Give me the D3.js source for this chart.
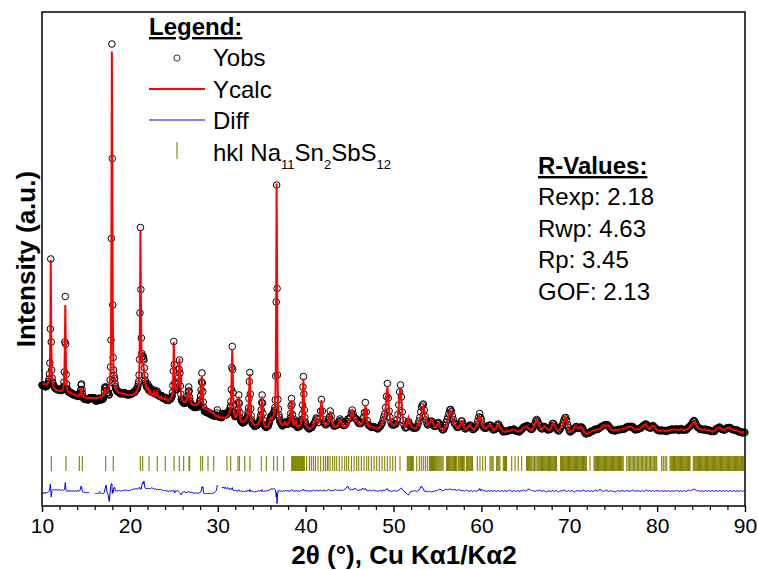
<!DOCTYPE html>
<html>
<head>
<meta charset="utf-8">
<script src="https://cdn.jsdelivr.net/npm/d3@7"></script>
<style>
  body { margin: 0; background: #fff; }
  svg { display: block; font-family: "Liberation Sans", Arial, sans-serif; }
</style>
</head>
<body>
<div id="chart"></div>
<script>
// 2theta grid: 10.00–40.00 in 0.05° steps, then 40.1–90.0 in 0.1° steps
const fineStart = 10, fineStep = 0.05;
const coarseStart = 40.1, coarseStep = 0.1;

// Ycalc (counts, arbitrary units)
const calcFine = [
  246,246,245,245,245,244,244,244,243,243,243,243,244,245,247,250,254,262,280,340,
  492,340,275,255,246,242,239,237,236,235,234,233,232,232,232,231,231,231,231,231,
  230,230,230,230,230,230,231,232,234,238,246,265,320,402,318,262,244,236,232,230,
  229,228,228,227,227,226,226,225,225,224,224,224,223,223,222,222,222,221,221,221,
  221,220,220,220,221,223,222,223,226,232,236,230,225,221,219,218,218,218,217,217,
  217,217,216,216,216,216,216,216,216,216,216,216,216,216,216,216,216,216,216,216,
  216,216,216,216,216,216,216,216,217,217,217,217,217,217,218,218,218,219,219,220,
  221,224,232,236,229,226,226,227,229,231,233,236,239,243,248,256,272,320,520,909,
  700,400,300,268,255,247,242,238,235,233,231,230,229,228,227,227,226,226,226,225,
  225,225,225,225,224,224,224,224,224,223,223,223,223,223,222,222,222,222,222,222,
  222,222,222,222,222,222,222,223,223,223,224,224,225,226,227,228,230,232,235,239,
  245,256,285,380,552,430,330,295,285,282,282,280,272,262,253,246,241,237,234,233,
  234,238,234,228,226,228,232,228,224,222,221,221,222,223,225,228,226,222,220,220,
  221,224,227,224,220,218,217,217,217,217,218,219,218,216,215,215,214,214,214,214,
  215,217,215,213,212,212,212,212,212,212,213,213,214,215,216,218,221,227,240,270,
  328,285,250,238,233,232,233,235,238,242,248,258,275,295,270,245,230,222,216,213,
  211,210,209,208,208,208,208,209,210,211,213,216,221,230,238,232,220,212,208,206,
  205,204,204,203,203,203,202,202,202,202,202,202,202,203,203,204,205,206,208,211,
  215,222,232,246,258,240,220,206,200,197,195,194,194,193,193,193,193,192,192,191,
  191,190,190,189,189,188,188,187,187,186,186,185,184,183,182,181,181,180,180,180,
  180,179,179,178,178,178,177,177,177,177,177,176,176,176,176,176,176,177,177,178,
  178,179,180,181,182,183,185,187,190,195,205,230,275,312,270,225,200,188,182,179,
  178,178,179,180,182,186,193,205,219,205,188,178,173,170,169,168,168,168,168,169,
  170,170,171,172,173,174,176,178,181,186,195,215,250,264,225,195,180,172,168,166,
  165,164,163,163,162,162,162,162,162,163,163,164,165,166,167,169,171,175,181,192,
  208,219,205,185,172,165,162,160,159,158,158,158,158,158,159,160,162,164,167,170,
  173,175,176,175,175,176,178,180,183,187,194,210,260,420,645,460,270,215,193,182,
  176,172,169,167,165,164,163,162,162,162,163,165,167,168,167,165,163,162,163,164,
  165,166,167,169,172,176,184,198,212,200,182,170,165,163,163,165,169,172,168,162,
  159,158,158,158,158,159,160,161,163,165,168,173,182,200,235,255,222,192,176,168,
  163
];
const calcCoarse = [
  160,157,156,155,155,156,157,159,162,
  165,170,175,172,166,167,174,188,212,190,
  172,166,163,162,163,165,169,176,189,180,
  168,162,159,158,158,159,161,164,168,172,
  170,165,161,159,158,158,159,161,164,168,
  172,176,183,189,182,174,170,170,172,169,
  165,163,162,163,165,168,174,185,202,186,
  170,163,160,158,158,157,157,157,157,157,
  156,155,155,156,157,159,162,165,170,176,
  183,195,215,240,215,190,176,168,164,162,
  162,162,163,166,172,182,200,225,237,212,
  185,170,162,159,160,164,171,177,170,163,
  160,158,157,156,155,156,157,159,163,168,
  173,180,188,196,200,192,180,172,166,164,
  164,166,169,172,170,165,161,159,159,161,
  164,165,162,158,155,153,152,152,154,158,
  164,170,176,182,187,190,186,178,170,164,
  162,160,157,155,155,158,163,168,169,164,
  158,155,153,154,156,159,161,162,160,157,
  154,153,154,156,159,163,169,176,180,177,
  169,162,158,156,155,156,157,158,160,161,
  162,160,157,154,152,152,154,157,161,163,
  162,159,155,152,150,149,149,149,149,150,
  150,150,150,151,152,153,153,153,152,151,
  150,149,149,149,150,151,153,155,156,157,
  158,159,159,157,155,153,152,152,154,157,
  161,166,170,172,170,165,160,156,155,155,
  156,158,159,158,156,154,152,152,153,156,
  160,164,165,163,159,155,153,152,152,153,
  155,158,161,165,170,175,177,172,163,156,
  151,149,149,150,152,155,157,159,159,157,
  155,155,157,159,158,155,151,148,146,145,
  145,145,146,147,148,149,150,151,152,152,
  152,152,153,153,153,154,156,158,160,162,
  162,161,160,161,162,160,157,154,152,152,
  152,152,152,152,152,152,153,153,153,153,
  153,153,154,155,156,157,158,158,159,159,
  159,158,157,155,154,153,153,153,153,154,
  155,156,157,158,160,162,163,163,161,159,
  157,156,156,157,159,160,160,158,156,154,
  152,151,151,151,151,151,151,151,151,150,
  150,150,151,151,152,152,153,153,153,153,
  153,153,153,153,152,152,153,154,154,153,
  152,152,152,153,154,155,156,158,160,162,
  164,166,167,166,163,160,157,156,155,154,
  153,153,153,153,153,153,152,152,152,151,
  151,150,149,149,149,150,151,153,155,156,
  157,157,156,155,153,152,152,153,154,155,
  156,157,157,156,155,154,153,152,152,152,
  152,151,150,149,148,148,147,147,147,147,
  147
];

// Diff = Yobs - Ycalc (null = excluded region)
const N = null;
const diffFine = [
  -4,-5,-4,-3,-5,-4,-3,-4,-5,-3,-4,-3,-2,-3,-2,-1,0,2,6,14,
  2,-12,-3,1,2,3,2,3,2,1,2,3,2,2,3,2,1,2,3,2,
  2,3,2,1,2,1,2,3,2,1,2,3,8,17,6,1,0,-1,0,1,
  0,1,-1,0,1,0,-1,0,1,0,-1,0,1,0,0,-1,0,1,0,-1,
  0,1,0,-1,1,2,1,3,6,10,8,3,0,-2,-3,-3,-4,-3,-4,-3,
  -3,-4,-3,-2,-3,-4,-3,-3,N,N,N,N,N,N,N,N,N,N,N,N,
  N,-5,-6,-5,-4,-5,-6,-5,-4,-5,-3,-1,-3,-4,-5,-6,-5,-4,-5,-6,
  -5,-4,-2,2,6,10,12,4,-2,-4,-6,-10,-16,-21,-12,-4,6,12,15,15,
  -5,2,-3,4,6,8,4,1,0,1,0,-1,0,1,2,1,0,1,0,-1,
  0,1,0,1,2,1,0,1,2,3,2,1,2,1,0,1,2,1,0,1,
  2,1,2,3,2,3,4,3,4,5,4,3,4,5,6,5,4,3,4,5,
  4,6,8,6,5,3,6,10,14,16,18,15,20,14,8,6,5,6,5,4,
  5,6,5,4,5,6,5,4,5,6,7,6,5,4,5,4,3,4,5,4,
  3,4,3,2,3,4,3,4,3,2,3,2,3,2,1,2,1,2,1,0,
  1,0,1,0,-1,0,1,0,-1,0,1,0,-1,0,1,0,-1,0,1,0,
  1,-2,-4,-2,0,1,0,-1,0,1,0,-1,-2,-3,-4,-5,-6,-8,-5,-3,
  -2,-1,-2,-3,-2,-1,-2,-3,-2,-3,-4,-3,-2,-1,0,-2,-3,-2,-3,-4,
  -3,-4,-3,-2,-3,-4,-5,-4,-3,-4,-5,-4,-3,-4,-5,-6,-5,-4,-3,-2,
  -3,-2,0,2,8,6,9,2,-3,-5,-6,-5,-4,-5,-6,-5,-4,-5,-6,-5,
  -6,-5,-4,-5,-6,-5,-4,-5,-6,-5,-4,-3,-4,-3,-2,-1,0,2,6,12,
  N,N,N,N,N,N,N,N,N,N,8,6,7,8,6,5,7,8,6,5,
  4,5,6,7,5,4,3,4,6,5,4,3,2,7,3,2,1,0,1,0,
  1,2,1,0,-1,0,1,2,3,0,-1,-2,-1,0,1,0,-1,-2,-1,0,
  -1,-2,-1,0,1,0,-1,0,1,2,1,0,-1,3,-1,0,1,0,-1,-2,
  -1,0,-1,-2,-3,-2,-1,0,-1,-2,-1,0,1,0,-1,0,1,2,1,0,
  -1,3,1,0,-1,-2,-1,0,1,0,-1,0,1,2,1,0,1,2,3,4,
  3,4,5,4,3,4,5,6,5,4,3,2,0,-12,-3,-25,-8,-2,1,0,
  1,0,-1,0,1,0,-1,-2,-1,0,1,0,-1,0,1,0,1,2,1,0,
  -1,0,1,0,-1,0,1,2,3,3,1,0,-1,0,1,0,-1,0,1,0,
  1,0,-1,0,1,0,-1,0,1,2,1,0,1,2,3,4,2,0,1,0,
  1
];
const diffCoarse = [
  0,1,0,-1,0,1,0,1,2,
  1,0,1,2,1,0,1,2,1,0,
  1,2,1,0,1,2,3,2,1,0,
  1,2,1,2,3,2,1,2,1,2,
  1,2,1,2,3,4,6,8,10,6,
  3,2,3,3,2,4,6,4,2,1,
  1,2,3,2,3,6,4,2,5,2,
  1,0,1,2,1,0,1,2,1,0,
  1,0,-1,0,1,0,1,0,1,2,
  1,2,4,5,1,0,1,0,-1,0,
  0,1,0,-1,0,1,2,3,5,6,
  3,1,0,-2,-4,-6,-7,-8,-5,-2,
  -1,0,-1,0,1,0,-1,0,1,2,
  4,8,10,6,4,0,-1,0,-1,-2,
  -1,0,-1,-2,-1,0,-1,0,1,0,
  1,2,3,4,2,1,0,1,2,3,
  4,3,2,3,5,3,3,2,3,2,
  3,2,1,2,3,2,1,2,1,0,
  1,0,1,2,1,0,-1,0,1,0,
  -1,0,1,0,-1,0,1,2,5,0,
  4,2,1,0,1,0,-1,0,1,0,
  0,1,0,-1,0,1,0,-1,0,1,
  0,-1,0,1,0,-1,0,1,0,-1,
  0,1,2,1,0,-1,0,1,0,-1,
  0,1,0,-1,0,1,0,1,2,1,
  0,1,2,3,4,3,2,1,0,1,
  0,-1,0,1,0,1,2,1,0,-1,
  0,1,0,-1,-2,-1,0,1,0,-1,
  0,1,0,-1,0,1,0,-1,-2,-1,
  0,1,0,1,2,1,0,-1,0,1,
  0,-1,0,1,0,-1,-2,-1,0,1,
  0,1,0,-1,0,1,2,1,0,-1,
  0,1,0,-1,0,1,0,-1,0,1,
  2,1,0,1,2,3,2,1,0,-1,
  0,1,2,1,0,-1,0,1,0,-1,
  0,-1,-2,-1,0,1,0,-1,0,1,
  0,1,0,-1,0,1,0,1,0,-1,
  0,1,2,1,0,-1,0,1,0,1,
  0,-1,0,1,0,-1,0,1,2,1,
  0,1,0,-1,0,1,0,-1,0,1,
  0,1,0,-1,0,1,0,-1,0,1,
  0,-1,0,1,0,-1,0,1,0,-1,
  0,1,0,1,0,-1,0,1,0,-1,
  0,1,0,-1,0,1,2,1,0,1,
  2,3,4,3,2,1,0,1,0,-1,
  0,1,0,-1,0,1,0,-1,0,1,
  0,-1,0,1,0,-1,0,1,0,-1,
  0,1,0,-1,0,1,0,-1,0,1,
  0,-1,0,1,0,-1,0,1,0,-1,
  0,1,0,-1,0,1,0,-1,0,1,
  0
];
const diffOffset = 30;

// reflection positions, hkl Na11Sn2SbS12
const hklPos = [
  11.06,12.73,14.25,14.59,17.25,18.11,21.19,21.46,22.18,23.12,24.03,25.02,25.63,26.12,26.73,26.80,
  28.06,28.28,28.89,29.54,31.05,31.47,32.30,32.46,33.07,33.67,34.96,35.53,36.36,36.78,37.50,
  38.42,38.50,38.58,38.66,38.75,38.83,38.92,39.00,39.10,39.18,39.27,39.36,39.45,39.55,39.64,39.74,39.85,
  40.12,40.43,40.65,40.88,41.11,41.41,41.71,42.02,42.25,42.47,42.55,42.78,43.08,43.31,43.54,43.84,
  44.14,44.45,44.67,44.90,45.21,45.51,45.81,46.04,46.34,46.65,46.95,47.18,47.48,47.79,48.09,48.39,
  48.70,49.00,49.30,49.61,49.91,50.21,50.74,51.57,51.66,51.75,51.85,51.95,52.05,52.15,52.25,
  52.64,52.94,53.17,53.39,53.62,53.85,54.08,54.20,54.32,54.44,54.56,54.68,54.80,54.92,55.04,55.16,
  55.28,55.40,55.52,55.64,56.05,56.15,56.25,56.35,56.45,56.55,56.65,56.75,56.85,56.95,57.05,57.15,
  57.35,57.45,57.55,57.65,57.75,57.85,57.95,58.05,58.30,58.40,58.50,58.60,58.70,58.80,58.90,59.00,
  59.54,59.84,60.15,60.45,60.98,61.10,61.22,61.34,61.74,61.86,61.98,62.10,62.50,62.62,62.74,62.86,
  63.45,63.83,64.20,64.58,65.15,65.25,65.35,65.45,65.55,65.65,65.75,65.90,66.05,66.20,66.35,66.45,
  66.55,66.65,66.75,66.85,66.95,67.05,67.15,67.25,67.35,67.45,67.55,67.65,67.75,67.85,67.95,68.05,
  68.15,68.25,68.35,68.45,68.55,69.02,69.12,69.22,69.32,69.42,69.52,69.62,69.72,69.82,69.92,70.02,
  70.12,70.22,70.32,70.42,70.52,70.62,70.72,70.82,70.92,71.02,71.12,71.22,71.32,71.42,71.52,71.62,
  71.72,71.82,71.95,72.36,72.82,72.92,73.02,73.12,73.22,73.32,73.42,73.52,73.62,73.72,73.82,73.92,
  74.02,74.12,74.22,74.32,74.42,74.52,74.62,74.72,74.82,74.92,75.02,75.12,75.22,75.32,75.42,75.52,
  75.62,75.72,75.82,75.92,76.02,76.14,76.54,76.70,76.85,77.00,77.15,77.30,77.45,77.60,77.75,77.90,
  78.05,78.20,78.35,78.50,78.65,78.80,78.95,79.10,79.25,79.40,79.55,79.70,79.85,79.95,80.52,80.70,
  80.90,81.09,81.47,81.57,81.67,81.77,81.87,81.97,82.07,82.17,82.27,82.37,82.47,82.57,82.67,82.77,
  82.87,82.97,83.07,83.17,83.27,83.37,83.47,83.57,83.67,83.74,84.12,84.22,84.32,84.42,84.52,84.62,
  84.72,84.82,84.92,85.02,85.12,85.22,85.32,85.42,85.52,85.62,85.72,85.82,85.92,86.02,86.12,86.22,
  86.32,86.42,86.52,86.62,86.72,86.82,86.92,87.02,87.12,87.22,87.32,87.42,87.52,87.62,87.72,87.82,
  87.92,88.02,88.12,88.22,88.32,88.42,88.52,88.62,88.72,88.82,88.92,89.02,89.12,89.22,89.32,89.42,
  89.52,89.62,89.72,89.81
];

const xTicks = [10, 20, 30, 40, 50, 60, 70, 80, 90];
const xMinorTicks = [12,14,16,18,22,24,26,28,32,34,36,38,42,44,46,48,52,54,56,58,62,64,66,68,72,74,76,78,82,84,86,88];
const legendItems = ['Yobs', 'Ycalc', 'Diff'];
const rValues = ['Rexp: 2.18', 'Rwp: 4.63', 'Rp: 3.45', 'GOF: 2.13'];

const width = 758, height = 570;
const plot = { left: 42, right: 745, top: 12, bottom: 506 };

const svg = d3.select('#chart').append('svg')
  .attr('width', width)
  .attr('height', height);

const x = d3.scaleLinear().domain([10, 90]).range([plot.left, plot.right]);
const y = d3.scaleLinear().domain([0, 988]).range([plot.bottom, plot.top]);

const thetaFine = calcFine.map((d, i) => +(fineStart + i * fineStep).toFixed(2));
const thetaCoarse = calcCoarse.map((d, i) => +(coarseStart + i * coarseStep).toFixed(2));
const pts = thetaFine.map((t, i) => ({ t: t, calc: calcFine[i], diff: diffFine[i] }))
  .concat(thetaCoarse.map((t, i) => ({ t: t, calc: calcCoarse[i], diff: diffCoarse[i] })));
pts.forEach(d => { d.obs = d.calc + (d.diff == null ? 0 : d.diff); });

// Yobs circles
svg.append('g')
  .selectAll('circle')
  .data(pts)
  .enter().append('circle')
    .attr('cx', d => x(d.t))
    .attr('cy', d => y(d.obs))
    .attr('r', 3.3)
    .attr('fill', 'none')
    .attr('stroke', '#000')
    .attr('stroke-width', 1);

// Ycalc
svg.append('path')
  .datum(pts)
  .attr('fill', 'none')
  .attr('stroke', '#ff0000')
  .attr('stroke-width', 2)
  .attr('d', d3.line().x(d => x(d.t)).y(d => y(d.calc)));

// hkl ticks
svg.append('g')
  .selectAll('line')
  .data(hklPos)
  .enter().append('line')
    .attr('x1', d => x(d)).attr('x2', d => x(d))
    .attr('y1', 456).attr('y2', 471)
    .attr('stroke', '#808000')
    .attr('stroke-width', 1.1);

// Diff
svg.append('path')
  .datum(pts)
  .attr('fill', 'none')
  .attr('stroke', '#0000ff')
  .attr('stroke-width', 1)
  .attr('d', d3.line()
    .defined(d => d.diff != null)
    .x(d => x(d.t))
    .y(d => y(diffOffset + d.diff)));

// x axis
const xAxis = svg.append('g')
  .attr('transform', `translate(0,${plot.bottom})`)
  .call(d3.axisBottom(x).tickValues(xTicks).tickSize(6).tickPadding(6).tickFormat(d3.format('d')));
xAxis.attr('font-size', 21).attr('font-family', null);
xAxis.select('.domain').remove();
xAxis.selectAll('line').attr('stroke-width', 1.4);
xAxis.selectAll('text').attr('fill', '#000');

const xMinor = svg.append('g')
  .attr('transform', `translate(0,${plot.bottom})`)
  .call(d3.axisBottom(x).tickValues(xMinorTicks).tickSize(4).tickFormat(''));
xMinor.select('.domain').remove();
xMinor.selectAll('line').attr('stroke-width', 1.2);

// frame
svg.append('rect')
  .attr('x', plot.left).attr('y', plot.top)
  .attr('width', plot.right - plot.left).attr('height', plot.bottom - plot.top)
  .attr('fill', 'none')
  .attr('stroke', '#000')
  .attr('stroke-width', 1.5);

// axis titles
svg.append('text')
  .attr('x', 404).attr('y', 564)
  .attr('text-anchor', 'middle')
  .attr('font-size', 26).attr('font-weight', 'bold')
  .text('2θ (°), Cu Kα1/Kα2');

svg.append('text')
  .attr('transform', 'translate(35,259) rotate(-90)')
  .attr('text-anchor', 'middle')
  .attr('font-size', 26).attr('font-weight', 'bold')
  .text('Intensity (a.u.)');

// legend
const legend = svg.append('g');
legend.append('text')
  .attr('x', 149).attr('y', 35)
  .attr('font-size', 24).attr('font-weight', 'bold')
  .style('text-decoration', 'underline')
  .text('Legend:');

legend.append('circle')
  .attr('cx', 177).attr('cy', 58).attr('r', 3.1)
  .attr('fill', 'none').attr('stroke', '#000').attr('stroke-width', 0.8);
legend.append('line')
  .attr('x1', 149).attr('x2', 205).attr('y1', 89).attr('y2', 89)
  .attr('stroke', '#ff0000').attr('stroke-width', 1.8);
legend.append('line')
  .attr('x1', 149).attr('x2', 205).attr('y1', 120).attr('y2', 120)
  .attr('stroke', '#0000ff').attr('stroke-width', 1);
legend.append('line')
  .attr('x1', 177).attr('x2', 177).attr('y1', 142).attr('y2', 159)
  .attr('stroke', '#808000').attr('stroke-width', 1.1);

legend.selectAll('.item')
  .data(legendItems)
  .enter().append('text')
    .attr('class', 'item')
    .attr('x', 213)
    .attr('y', (d, i) => 66 + i * 31.7)
    .attr('font-size', 24)
    .text(d => d);

const hklLabel = legend.append('text')
  .attr('x', 213).attr('y', 161)
  .attr('font-size', 24);
hklLabel.append('tspan').text('hkl Na');
hklLabel.append('tspan').attr('font-size', 13).attr('dy', 8).text('11');
hklLabel.append('tspan').attr('dy', -8).text('Sn');
hklLabel.append('tspan').attr('font-size', 13).attr('dy', 8).text('2');
hklLabel.append('tspan').attr('dy', -8).text('SbS');
hklLabel.append('tspan').attr('font-size', 13).attr('dy', 8).text('12');

// R-values
svg.append('text')
  .attr('x', 538).attr('y', 174)
  .attr('font-size', 24).attr('font-weight', 'bold')
  .style('text-decoration', 'underline')
  .text('R-Values:');

svg.selectAll('.rval')
  .data(rValues)
  .enter().append('text')
    .attr('class', 'rval')
    .attr('x', 538)
    .attr('y', (d, i) => 205 + i * 31.7)
    .attr('font-size', 24)
    .text(d => d);
</script>
</body>
</html>
